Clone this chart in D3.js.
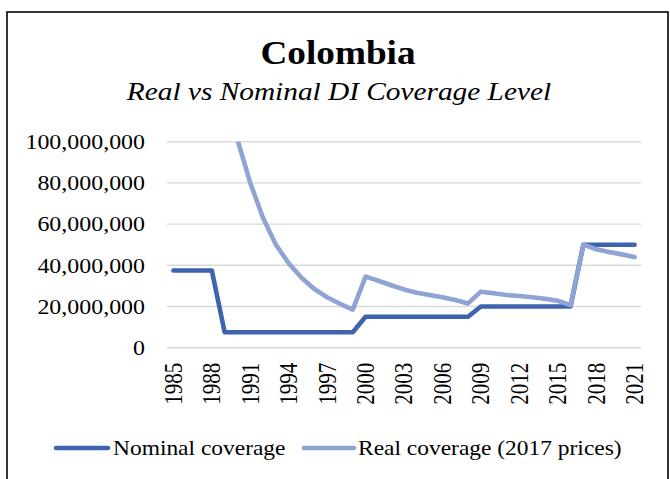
<!DOCTYPE html>
<html>
<head>
<meta charset="utf-8">
<script src="https://cdn.jsdelivr.net/npm/d3@7"></script>
<style>
  html, body { margin: 0; padding: 0; background: #fff; }
  svg { display: block; }
</style>
</head>
<body>
<script>
// ---- data ----
const years = d3.range(1985, 2022);
const nominal = [
  37.5e6, 37.5e6, 37.5e6, 37.5e6,            // 1985-1988
  7.5e6, 7.5e6, 7.5e6, 7.5e6, 7.5e6, 7.5e6,  // 1989-1994
  7.5e6, 7.5e6, 7.5e6, 7.5e6, 7.5e6,         // 1995-1999
  15e6, 15e6, 15e6, 15e6, 15e6, 15e6, 15e6, 15e6, 15e6, // 2000-2008
  20e6, 20e6, 20e6, 20e6, 20e6, 20e6, 20e6, 20e6,       // 2009-2016
  50e6, 50e6, 50e6, 50e6, 50e6                          // 2017-2021
];
const real = [
  1500e6, 1250e6, 1040e6, 840e6, 131e6,      // 1985-1989 (above axis max)
  101e6, 80e6, 63e6, 50e6, 41e6,             // 1990-1994
  34e6, 28.5e6, 24.5e6, 21.3e6, 18.5e6,      // 1995-1999
  34.5e6, 32.5e6, 30.3e6, 28.3e6, 26.7e6, 25.6e6, 24.5e6, 23.2e6, 21.5e6, // 2000-2008
  27.2e6, 26.4e6, 25.6e6, 25.1e6, 24.5e6, 23.8e6, 22.8e6, 20.7e6,         // 2009-2016
  50e6, 47.8e6, 46.5e6, 45.3e6, 44e6                                      // 2017-2021
];
const yTicks = [0, 20e6, 40e6, 60e6, 80e6, 100e6];
const xTickLabels = [1985, 1988, 1991, 1994, 1997, 2000, 2003, 2006, 2009, 2012, 2015, 2018, 2021];
const seriesNames = ["Nominal coverage", "Real coverage (2017 prices)"];
const colors = ["#3E64AE", "#8FA3D4"];

// ---- layout ----
const W = 670, H = 479;
const SX = 1.15; // horizontal stretch of the original picture
const FONT = '"Liberation Serif", "Times New Roman", Times, serif';
const plot = { left: 167, right: 641, top: 141.7, bottom: 347.7 };

const svg = d3.select("body").append("svg").attr("width", W).attr("height", H);

// frame
svg.append("rect")
  .attr("x", 7).attr("y", 12).attr("width", 661).attr("height", H + 20)
  .attr("fill", "none").attr("stroke", "#000").attr("stroke-width", 1.6);

const x = d3.scalePoint().domain(years).range([plot.left, plot.right]).padding(0.5);
const y = d3.scaleLinear().domain([0, 100e6]).range([plot.bottom, plot.top]);

function stretchedText(g, px, py, str, sx) {
  return g.append("text")
    .attr("transform", `translate(${px},${py}) scale(${sx || SX},1)`)
    .style("font-family", FONT).attr("fill", "#000")
    .text(str);
}

// titles
stretchedText(svg, 338, 64, "Colombia", 1.08)
  .attr("text-anchor", "middle").attr("font-size", 34.5).attr("font-weight", "bold");
stretchedText(svg, 339, 99.5, "Real vs Nominal DI Coverage Level", 1.16)
  .attr("text-anchor", "middle").attr("font-size", 25.3).attr("font-style", "italic");

// gridlines
svg.append("g").selectAll("line").data(yTicks).join("line")
  .attr("x1", plot.left).attr("x2", plot.right)
  .attr("y1", d => y(d)).attr("y2", d => y(d))
  .attr("stroke", "#d9d9d9").attr("stroke-width", 1.4);

// y tick labels
const fmt = d3.format(",");
const yl = svg.append("g");
yTicks.forEach(t => {
  stretchedText(yl, 145, y(t), fmt(t))
    .attr("text-anchor", "end").attr("dy", "0.35em").attr("font-size", 20.8);
});

// x tick labels (rotated)
const xl = svg.append("g");
xTickLabels.forEach(t => {
  xl.append("text")
    .attr("transform", `translate(${x(t)},${plot.bottom + 15}) scale(${SX},1) rotate(-90)`)
    .style("font-family", FONT).attr("fill", "#000")
    .attr("text-anchor", "end").attr("dy", "0.35em").attr("font-size", 21)
    .text(t);
});

// clip
svg.append("clipPath").attr("id", "plotclip").append("rect")
  .attr("x", 0).attr("y", plot.top).attr("width", W).attr("height", plot.bottom - plot.top + 10);

const line = d3.line().x((d, i) => x(years[i])).y(d => y(d));

const lines = svg.append("g").attr("clip-path", "url(#plotclip)");
[nominal, real].forEach((s, i) => {
  lines.append("path")
    .attr("d", line(s))
    .attr("fill", "none").attr("stroke", colors[i]).attr("stroke-width", 4.6)
    .attr("stroke-linejoin", "round").attr("stroke-linecap", "round");
});

// legend
const legendItems = [
  { x1: 56, x2: 108, tx: 113 },
  { x1: 304, x2: 354, tx: 358 }
];
const lg = svg.append("g");
legendItems.forEach((it, i) => {
  lg.append("line")
    .attr("x1", it.x1).attr("x2", it.x2).attr("y1", 448).attr("y2", 448)
    .attr("stroke", colors[i]).attr("stroke-width", 4.6).attr("stroke-linecap", "round");
  stretchedText(lg, it.tx, 455, seriesNames[i]).attr("font-size", 20.4);
});
</script>
</body>
</html>
